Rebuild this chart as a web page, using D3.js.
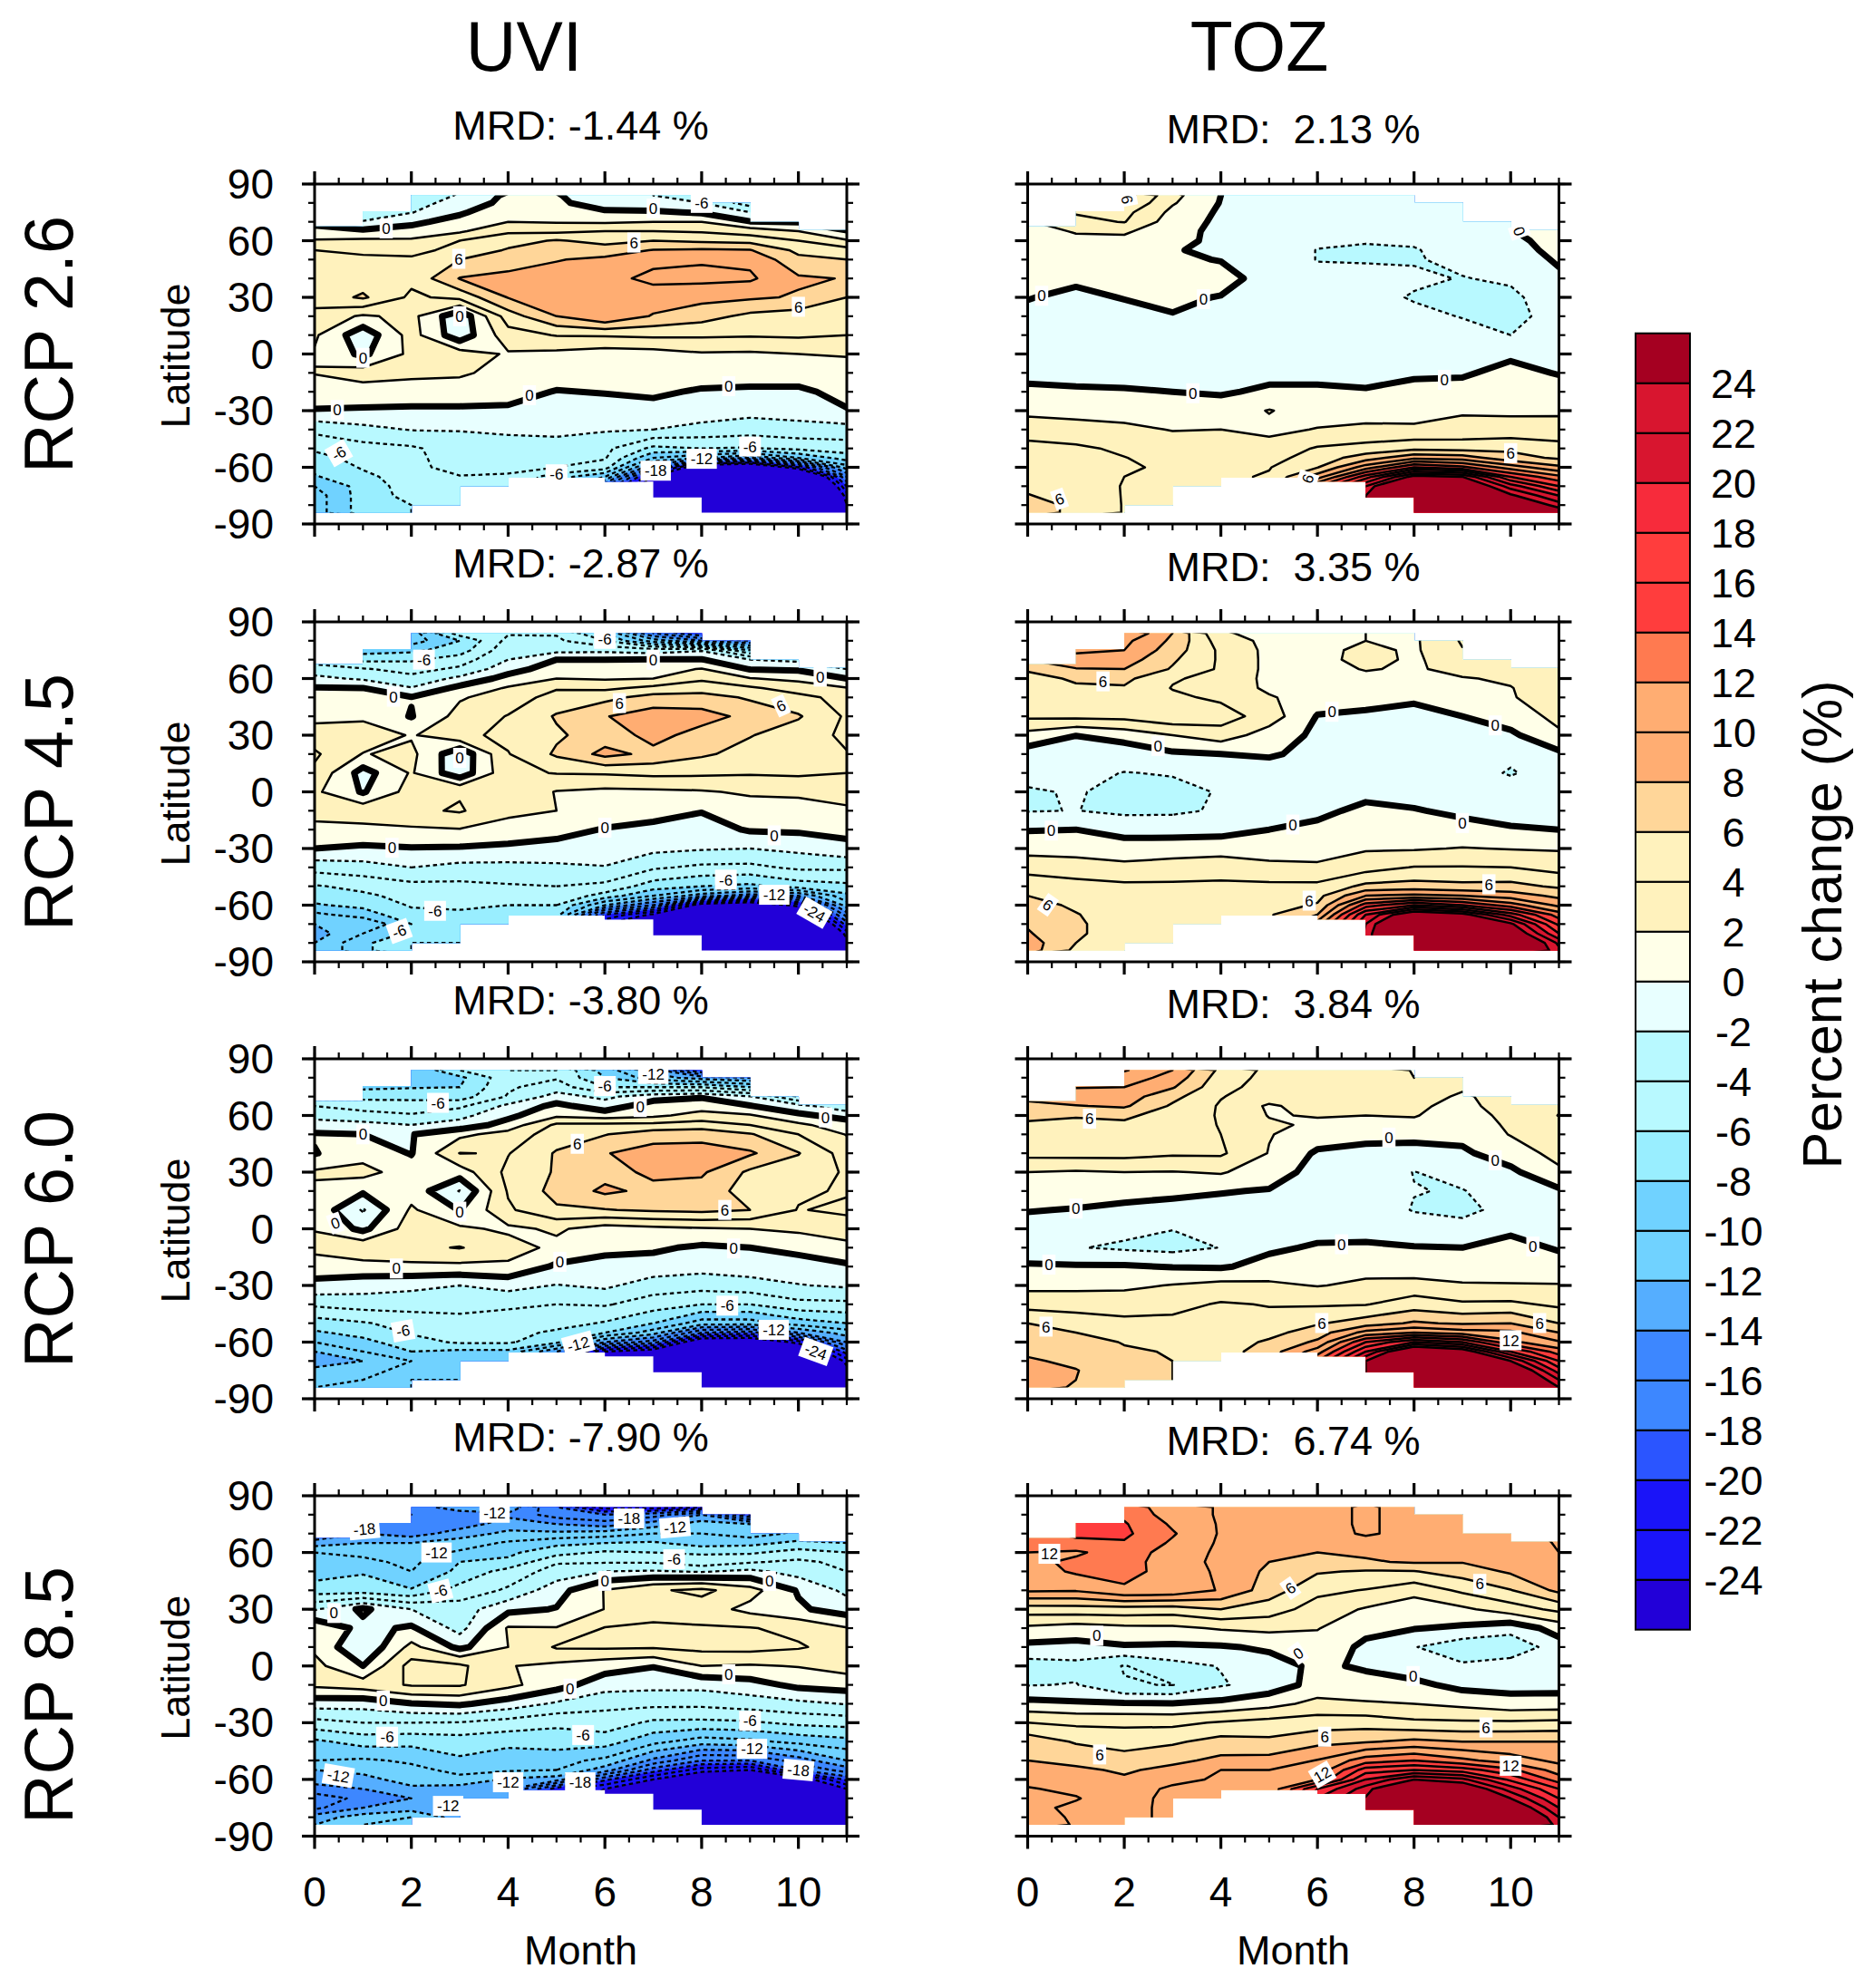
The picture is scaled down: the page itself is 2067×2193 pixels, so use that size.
<!DOCTYPE html>
<html><head><meta charset="utf-8">
<script src="https://cdn.jsdelivr.net/npm/d3@7"></script>
<style>html,body{margin:0;background:#fff}text{font-family:"Liberation Sans",Arial,sans-serif;fill:#000}</style>
</head><body><div id="chart"></div>
<script>
// Latitude nodes of every column below (north to south); one array per month 0..11
const lats=[84,80,75,70,65,60,55,50,40,30,20,10,0,-10,-20,-30,-40,-50,-55,-60,-65,-70,-75,-80,-84];
const levels=[-24,-22,-20,-18,-16,-14,-12,-10,-8,-6,-4,-2,0,2,4,6,8,10,12,14,16,18,20,22,24];
const bandColors=["#2200D8","#1A14F8","#1A14F8","#2B55FF","#3D87FF","#3D87FF","#55AEFF","#70D2FF","#70D2FF","#99EEFF","#B8F9FF","#B8F9FF","#E8FFFF","#FFFFE8","#FFF2BD","#FFF2BD","#FFD699","#FFAD72","#FFAD72","#FF7A50","#FF3D3D","#FF3D3D","#F72B3B","#D8152F","#D8152F","#A50021"];
// Valid-data limits for each month-to-month cell
const northLimit=[67.6,75.6,84,84,84,84,84,84,80,70,65.7];
const southLimit=[-84,-84,-80,-70,-65.5,-65.5,-67.6,-76,-84,-84,-84];
const rowNames=["RCP 2.6","RCP 4.5","RCP 6.0","RCP 8.5"];
const colNames=["UVI","TOZ"];
const mrdUVI=["MRD: -1.44 %","MRD: -2.87 %","MRD: -3.80 %","MRD: -7.90 %"];
const mrdTOZ=["MRD:  2.13 %","MRD:  3.35 %","MRD:  3.84 %","MRD:  6.74 %"];

const uvi26=[
[-1,-1,-1,-0.4,0.6,2.2,4,4.4,4.8,4.8,3.4,2.3,1.8,2.1,0.9,-0.1,-3.5,-5.5,-7,-7.5,-8.2,-10,-11,-11,-11],
[-3,-3,-3,-1.9,0.4,2.4,3.7,4.3,5,6.3,1.7,-1.3,-0.4,3,1,-0.2,-2.6,-4.7,-5,-5.8,-6.5,-7.2,-7,-7,-7],
[-3.5,-3,-2.1,-0.3,0.5,2.4,3.4,4.3,4.5,3.6,2.6,2.8,2.5,2.5,1,-0.3,-1.9,-4.3,-4.4,-4.5,-5,-5,-5.4,-6,-6],
[-1.8,-1,-0.2,0.5,1.7,4,4.6,6,8.1,4.6,-1.5,-1.3,2.9,2.3,1,-0.3,-1.9,-3,-3.2,-3.3,-4.1,-4.2,-4.5,-5,-5],
[0.4,0.5,1,2,3.7,5.2,6.2,7,8.6,8.1,5,3.2,1.8,1.3,0.7,-0.3,-1.6,-3,-3.2,-3.4,-4.3,-4.5,-4.5,-5,-5],
[0.2,0.4,1,1.8,3.6,6.2,7,7.9,8.8,9,8,4.1,1.5,1,-0.1,-0.9,-1.5,-2.8,-3.2,-4,-7,-8,-8,-8,-8],
[-1.5,-1,0.3,1.7,4,5.3,7,8.4,9.5,9.3,9.9,4.2,1,0.8,0.1,-0.9,-1.8,-3.5,-3.8,-5,-10,-16,-20,-20,-20],
[-2,-1.5,0.3,2,4,6,8.1,9.6,10.4,9.2,7.8,4.4,1.2,0.8,0.3,-0.6,-2,-6.5,-10,-16,-24.5,-27,-28,-28,-28],
[-3,-2,-0.2,2,3.8,5.6,8.3,9.8,10.5,8.6,6.8,4.3,1.8,0.9,-0.2,-1,-2.6,-6,-12,-28,-38,-44,-48,-50,-50],
[-5,-5,-2,0.1,3,5.3,8.1,9.6,10.3,8.3,5.5,4.2,1.7,0.8,-0.3,-1.4,-3,-6.2,-14,-30,-40,-45,-48,-48,-48],
[-5,-5,-3,-0.1,2,4,5.5,6.5,8.3,7.8,5,4.3,2,0.8,-0.3,-1.2,-2.7,-5.5,-10,-22,-35,-40,-40,-40,-40],
[-3,-3,-2,-1,0.1,2.2,4.8,6,7.9,6,4.6,4,2.2,0.9,0.5,-0.1,-2.8,-5,-7,-11,-16,-20,-23,-24,-25]];
const uvi45=[
[-6,-6,-6,-5,-3,-1.5,0.1,0.7,1.4,3,4.3,3.6,2.4,3,1.2,0,-3.2,-6.2,-7.2,-8.2,-10.5,-12,-13,-12,-12],
[-9,-9,-9,-6.5,-3.8,-2.3,0,0.8,1.5,3.4,1.9,-0.8,-0.2,3.3,1.4,-0.3,-2.8,-5.4,-6.4,-7.5,-9,-12,-10,-8.5,-8.5],
[-11,-11,-8.5,-6.3,-4.7,-3.4,-1.9,0.1,-0.1,1.8,2.5,2.2,2.8,3.6,1.7,-0.1,-2,-4.6,-5.3,-5.8,-6.6,-8,-7.5,-6,-6],
[-5,-8,-7,-5,-3.6,-1.5,0.5,1.8,2.7,3.5,-1.5,-1.3,3.8,4.2,1.9,-0.2,-2.6,-4.5,-5,-5.7,-6.3,-6.7,-6.2,-6,-6],
[-4.2,-3.4,-2.6,-2,-0.8,0.7,2.2,2.9,4.1,4.5,3.9,3.5,3.4,2.5,1.2,-0.4,-2.6,-4.2,-4.4,-6,-7,-7,-7,-7,-7],
[-4.2,-3.6,-2.6,0,1,2,3.8,4.8,6.2,5.7,6.3,4.1,1.9,2,0.6,-0.6,-2.4,-4,-4.5,-6,-7,-7,-7,-7,-7],
[-8,-6,-2.5,0,1.1,1.8,3.6,5.4,7.9,7,8.6,4.2,1.5,1,-0.1,-0.9,-2.1,-4.5,-6.8,-12,-20,-24,-25,-25,-25],
[-16,-11,-3,0.1,1.3,2,4.5,6.8,9,8.6,7.5,4.5,1.6,0.7,-0.5,-1.5,-3.7,-7,-10,-16,-24.5,-27,-28,-28,-28],
[-20,-14,-2.2,0.1,2.1,3.7,5,6.9,8.7,7.3,6.3,4.4,1.8,0.1,-0.9,-1.8,-4.4,-8,-13,-26,-36,-42,-45,-45,-45],
[-20,-16,-8,-2,-0.1,2.1,4.3,5.7,7.5,6.1,5.3,4.2,2.3,1,0.2,-2,-4.5,-8.5,-15,-28,-38,-42,-45,-45,-45],
[-6,-6,-6,-2.5,-0.3,1.5,3.1,4.6,6.2,5,4.5,4.3,2.5,0.9,0.3,-1.5,-3.6,-7,-14,-23,-30,-36,-38,-38,-38],
[-3,-3,-3,-3,-2,0,2.1,3.3,3.7,3.6,4.1,4,3,1.6,0.6,-0.6,-3.6,-6.5,-8.5,-11,-15,-19,-23,-25,-26]];
const uvi60=[
[-8,-8,-8,-7,-4,-2.6,-1.2,0.2,-0.1,2.3,1.6,1.5,1.9,2.6,0.9,-0.5,-3.6,-7,-8.3,-10,-12,-14,-11,-11,-10],
[-9,-9,-8.5,-6.5,-5,-3,-1.5,0,1.2,2.7,0.3,-2.2,-0.5,3.6,1.2,-1.1,-3.1,-6.2,-7.3,-8.6,-10,-12,-11,-10,-9],
[-10,-10,-8.2,-6.3,-5.5,-3.7,-2,-0.1,-0.1,0.9,1.2,2.3,3,3.6,1.5,-1.5,-3.2,-5.2,-5.8,-6.8,-8,-10,-9,-8,-8],
[-6,-8.5,-8,-7,-4.4,-2.6,-1.2,1.5,4.05,1,-2.1,-0.1,2.4,4.1,1.5,-2,-3.4,-4.6,-5,-5.7,-8.5,-8.7,-8.5,-8,-8],
[-4,-4.6,-4.3,-3.8,-1.5,-0.5,0.8,2.8,3.9,4.5,4.2,3.7,1.6,2.9,1.6,-1.3,-3.6,-5.1,-5.3,-5.7,-8.5,-8.5,-8.5,-8,-8],
[-4,-4.2,-3,-1.2,0.5,1.6,4.4,5,6.2,6.2,6.7,5.7,2.3,1.5,-0.3,-2.1,-4,-5.2,-6.4,-7.5,-14,-14,-14,-14,-14],
[-9,-8,-6,-2.5,-1,1,4.5,5.9,7.9,7.3,8.4,5.9,1.1,0.5,-0.7,-1.6,-3.8,-6.2,-8,-14,-24,-25,-25,-25,-25],
[-13,-11,-6,-0.8,1,1.6,4.5,7.2,8.8,8.4,7.5,6.3,1.5,0.3,-0.8,-3,-5,-8,-11,-17,-26,-28,-28,-28,-28],
[-20,-13,-6,-0.2,1.2,2.7,5,7.3,8.9,8.3,7.2,6.5,1.8,-0.3,-1.3,-3.2,-6,-11,-18,-28,-37,-42,-45,-45,-45],
[-20,-14,-8,-1.8,0.1,2.2,4,6.2,8.3,5.6,5.1,6,2,0,-1,-2.8,-6,-11,-19,-28,-37,-42,-45,-45,-45],
[-8,-8,-8,-6,-1.3,0.4,2.4,4,6.1,5,4.3,3.9,2.4,0.5,-0.8,-2.1,-4.6,-9,-14,-23,-30,-36,-38,-38,-38],
[-5,-5,-5,-5,-3.5,-0.7,0.9,1.9,3.1,3.8,3.8,4.4,3,1.4,-0.3,-1.7,-4.5,-8,-11,-14,-19,-23,-25,-27,-28]];
const uvi85=[
[-18,-18,-18,-16,-13,-10,-9.5,-9,-7,-2.2,1.6,1.6,2.6,2.4,-1.1,-4.7,-8.4,-10,-12,-13,-15,-17,-16.5,-13,-12],
[-17,-17,-16,-14,-12,-10.5,-9.5,-8.2,-7,0.4,-0.6,-1.8,0,3,-1.2,-4,-7.2,-10.3,-11.5,-12.6,-14,-15.5,-14,-11,-10],
[-15,-16,-16,-15,-12,-11,-10.5,-10,-7.8,-2,0.3,2.6,4.8,4.2,-0.1,-4,-7.4,-9.7,-10.5,-11.2,-12.4,-14,-13,-10,-9],
[-13,-15,-15,-13,-11,-9.7,-8,-7.5,-5.2,-3,-2.7,-0.5,4.4,4.2,0.3,-4.1,-7,-8.3,-9.5,-10.5,-13,-13,-13,-13,-13],
[-12.5,-14.5,-13,-11.5,-9.7,-8.4,-7.6,-5.2,-3.7,-0.5,2.2,2,2.1,2.5,-0.9,-4.8,-7.4,-9.2,-9.7,-12.3,-13.5,-13.5,-13.5,-13.5,-13.5],
[-18,-17,-14,-11.5,-8.5,-6.8,-4.2,-3.2,-0.8,0.1,2.1,4.2,1.5,0.8,-2.3,-5.6,-7,-9.3,-10,-13,-21,-21,-21,-21,-21],
[-23,-18,-15,-11,-8,-5.7,-4.2,-2,2.1,2.05,4.1,4.3,0.8,-1.1,-3.5,-4.9,-7.1,-10.5,-13,-19.5,-24,-26,-26,-26,-26],
[-23,-17,-13,-10,-7.7,-6,-4.2,-1.8,3.7,3.1,4.4,4.2,0.1,-1.4,-3.5,-6.4,-9.4,-14.5,-19,-24,-29,-30,-30,-30,-30],
[-22,-14,-11,-10,-9,-6.2,-5.3,-2.2,4.5,3,4.2,4.6,2,-1.4,-3.5,-6.5,-11,-18,-23,-28,-34,-36,-36,-36,-36],
[-22,-20,-12,-11,-8.6,-6.3,-4.2,-1.5,2.8,1.4,4.1,4.7,1.8,-0.8,-3,-6.3,-10.5,-18,-24,-29,-35,-37,-37,-37,-37],
[-12,-12,-11,-9.5,-7.5,-5.2,-3.6,-2.8,-0.2,0.3,3.5,4.2,2.1,0.5,-2.5,-5.5,-9.4,-15,-18,-26,-33,-35,-35,-35,-35],
[-10,-10,-10,-10,-8,-6,-4.5,-4,-2.5,-0.9,2.1,3.2,2.8,0.9,-1.9,-5.2,-8.7,-12,-15,-19.5,-24,-26,-26,-26,-26]];
const toz26=[
[2,2,2,1.8,1.5,1,0.8,0.7,0.5,0.1,-0.6,-0.7,-0.8,-0.4,0.3,1.4,3.3,4.5,4.8,5,5.2,5.6,6.1,7,7],
[5,5,4.2,3.4,2.1,1.7,1.4,1,0.4,-0.5,-0.6,-0.7,-0.8,-0.5,0.2,1.2,2.9,4.3,4.6,4.8,4.8,5,5.2,5.5,5.5],
[7,6,4.6,4.1,2.3,1.5,1.1,0.8,0.4,0.1,-0.8,-0.8,-0.8,-0.4,0.1,1.1,2.5,3.7,4.05,4.3,4,3.9,3.9,3.9,3.9],
[2.6,2.2,1.5,1,0.7,0.6,0.1,0.4,0.6,0.4,-0.1,-0.8,-0.8,-0.4,0,0.9,1.9,3.2,3.4,3.6,3.6,3.8,3.8,3.8,3.8],
[0,-0.1,-0.3,-0.4,-0.5,-0.5,-0.3,-0.1,0.9,-0.1,-0.7,-0.8,-0.8,-0.4,-0.2,0.9,2,3.2,3.4,3.5,3.6,3.6,3.6,3.6,3.6],
[-0.6,-0.6,-0.7,-0.8,-0.9,-1,-1,-1,-1,-1,-1,-1,-1,-0.5,0.3,2.1,1.5,2.8,3.3,3.9,4.2,4.2,4.2,4.2,4.2],
[-0.6,-0.7,-0.9,-1,-1.3,-1.7,-2.05,-2.05,-1.6,-1.2,-1.2,-1.2,-1,-0.5,0.3,1.1,2.1,4.2,4.9,5.9,9,14,20,20,20],
[-0.6,-0.8,-1.2,-1.5,-1.7,-1.95,-2.1,-2.05,-1.8,-1.6,-1.4,-1.3,-1,-0.4,0.1,1.2,2.4,4.7,7,11,17,22,24,24,24],
[-0.6,-0.9,-1.2,-1.4,-1.7,-1.9,-2.05,-2.1,-1.8,-2.1,-1.7,-1.3,-1,-0.3,0.6,1.3,2.3,5.5,9.5,16,25,33,38,38,38],
[-0.4,-0.6,-0.9,-1.2,-1.4,-1.5,-1.7,-1.7,-2.05,-2.3,-2.05,-1.6,-1,-0.2,0.6,1.8,2.6,5.3,9,14.5,24,28,32,36,36],
[-0.3,-0.3,-0.3,-0.3,-0.1,-0.4,-0.7,-0.9,-1.8,-2.3,-2.3,-2,-0.3,0.5,1,1.7,2.7,5.6,6.7,11,16,21,24.5,28,30],
[0.8,0.8,0.8,0.8,0.8,0.6,0.5,0.2,-0.3,-1.2,-1.6,-1.6,-0.6,-0.1,0.8,1.6,3,4.6,5.7,8.5,12.5,16,20,23,26]];
const toz45=[
[9,9,9,8,6.2,5.5,5.2,5,4.4,1.3,-0.9,-1.4,-2.2,-2.1,-0.1,1.3,3.2,5.3,6,6.7,7.2,7.8,8.2,9,9],
[11,11,10.5,9,7.9,6.2,5.8,5.2,4.5,0.05,-1.5,-1.6,-1.85,-1.96,0,1.2,2.9,4.7,5.3,5.7,6.1,6.3,6.3,6,5.5],
[12,10.5,10,9,8,6.5,5.8,5.3,4.6,0.8,-1.2,-2.05,-2.5,-2.4,-0.7,0.9,2.5,4.4,4.7,4.9,5,5,5,5,5],
[8,7.6,7,6.3,5.8,4.2,3.9,4.4,5.5,2,-0.3,-1.9,-2.4,-2.3,-0.9,1.2,2.7,4.4,4.6,4.7,4.7,4.7,4.7,4.7,4.7],
[2.2,3,3.6,3.7,3.7,3.4,3.3,3.6,5,3,0,-1.3,-1.9,-1.8,-0.7,1.2,3.1,4.4,4.6,4.7,4.8,4.8,4.8,4.8,4.8],
[1.5,1.5,1.5,1.5,1.5,1.5,1.6,2.2,3,1.1,0.2,-0.9,-1.3,-1,0,0.9,2.6,4.4,4.8,5.2,5.8,5.8,5.8,5.8,5.8],
[1.3,1.3,1.4,1.4,1.4,1.4,1.3,1,-0.1,-0.4,-0.5,-0.7,-0.9,-0.5,0.5,1.5,2.2,4.5,5.4,6.2,8,11,12,12,12],
[2,2,2.5,2.6,2.1,1.6,1,0.6,-0.3,-0.6,-0.7,-0.8,-0.6,0.5,1,1.8,3.2,6.5,10,15,20,22,22.5,22.5,22.5],
[1.5,1.7,1.7,1.7,1.8,1.5,1,0.3,-0.6,-0.7,-0.8,-0.9,-0.6,0.1,0.8,1.8,4.1,6.8,10.5,18,27,32,34,36,36],
[4,4.2,3.9,3.1,2.5,1.9,1.2,0.8,0,-1,-1.2,-1,-0.7,-0.3,0.5,2.1,4.1,6.5,10,16,25,29,32,34,34],
[3.5,3.5,3.4,3.2,2.7,2.2,1.95,1.9,1,-0.4,-1.5,-2.2,-0.9,-0.4,0.1,1.9,4,6.6,9,13,19,24.5,27,30,30],
[3.3,3.3,3.3,3.3,3.1,2.9,2.8,2.7,2.5,1.7,-0.4,-0.9,-0.9,-0.5,0,1.8,3.3,5.7,7.5,9.5,13,15.5,18,21.5,22.5]];
const toz60=[
[9,9,9,9,7,6.3,5.8,5.2,4.6,2,1.2,0.1,-0.8,-1,0.2,1.5,3.2,6,6.7,7.1,7.6,8.3,9.5,10,10],
[11,11,10.1,9,7.9,6.1,5.7,5.2,4.7,1.8,1,-0.1,-1.1,-1.9,0.2,1.5,3.2,5,6,6.7,7,7.5,8.1,8,7.5],
[12.2,11,10,9,8.3,6.3,5.7,5.3,4.7,2,0.8,-0.5,-1.5,-2.3,0.2,1.6,3.1,4.5,5.3,5.9,6.2,6.4,6.5,6.5,6.5],
[10,9.3,8.2,6.6,5.7,5.3,5,4.7,4.3,1.9,0.4,-0.6,-1.95,-2.6,-0.1,2.1,3.4,4.5,5,5.5,5.9,6,6,6,6],
[5.5,5,4.6,4.1,3.8,3.8,3.9,4,4.3,2.2,0.1,-0.6,-1.2,-1.95,-0.2,2.6,4.2,4.6,4.8,5,5.1,5.1,5.1,5.1,5.1],
[3.5,3.4,3.2,3,1.7,1.9,2.3,2.1,1.9,0.8,-0.1,-0.5,-0.7,-0.3,0.6,2.4,3.9,4.6,5.4,6.3,7,7,7,7,7],
[3,3,3,3,2.9,2.1,1.7,1.1,-0.3,-0.6,-0.7,-0.8,-0.6,0.2,1.4,1.9,3.8,5.8,7,8.4,11,14,16,16,16],
[3,3,3,2.9,2.6,2,1.3,0.6,-0.6,-0.9,-1,-1,-0.7,0.3,1.3,2.4,3.9,7,10.7,16,20,24,24,24,24],
[1.9,2,2.4,2.6,2.3,2.1,1.6,0.7,-0.9,-2.05,-1.95,-2.1,-1.2,0.1,0.7,2.8,5,8.3,12,20,28.5,33,36,36,36],
[3,3,2.2,1.8,1.5,1.2,0.9,0.5,-0.3,-1.2,-2.1,-2.3,-1.6,0,0.9,2.2,4.3,7.7,11,18,26,30,33,35,35],
[3,3,3,2.6,2.8,2.5,2.3,2.1,0.9,-0.4,-0.9,-1.6,-0.4,0.7,1.3,2.1,4.4,8,10.5,12.5,18,24,28,30,30],
[3.8,3.8,3.8,3.8,3.8,4.05,3.4,3.2,2.7,1.6,-0.3,-0.9,-0.5,-0.2,0.9,2.1,3.6,6,8,10.2,13,16,19,22,24]];
const toz85=[
[14,14,14,13,12.7,12,11.5,11,10.3,5,1.6,-0.5,-2.9,-2.1,0.6,4,7.2,8,9,9.6,10.1,10,10.4,11,12],
[15,15,14.4,14.6,13.3,11.7,12.4,12.3,10.2,5.1,1.1,-0.6,-2.6,-1.9,0.3,3.6,5.8,7.4,8.4,9.1,9.7,10.1,9.7,9.7,9.7],
[13,13.6,14.2,14.4,13.8,13,12.8,12.6,11.7,5.2,1.5,-0.2,-4.1,-3.9,0.2,3.5,5.4,6.6,7.7,8.3,8.9,9.1,9.2,9.2,9.2],
[11,11,11.7,12.2,11.7,11.2,11,11.3,11.5,5,1.6,-0.3,-2.7,-4.05,0.1,3.5,5.7,7.5,8.6,9.4,10.4,10.6,10.6,10.6,10.6],
[9.8,9.8,9.8,9.8,9.7,9.6,9.5,9.6,9.8,6,2.2,-0.2,-1.9,-2.2,0.5,4.2,6.7,8.5,10,10.3,10.5,10.5,10.5,10.5,10.5],
[9.6,9.6,9.6,9.6,9.4,8.6,8,7.6,7,5,2.5,0.3,-0.8,-1.1,1.3,4.7,6.4,8.7,10,10.2,10.5,10.5,10.5,10.5,10.5],
[9.5,9.5,9.5,9.3,9,8,7.5,6.2,4.5,3.1,2.1,1.2,0.4,0.7,2.6,5,7.4,10.1,10.5,12,18,20,20,20,20],
[10.2,10.2,10.2,10.2,9.4,8.3,7.8,5.8,3.9,1.8,0.5,-0.4,-0.3,0.8,2.2,5.1,7.8,13,17,20,23,24.2,25,25,25],
[9.5,9.5,9.5,9.5,9.3,8.6,8.2,5.9,2.7,0.8,0.1,-1.9,-1.2,0.5,2,4.4,8.5,14,18,24,30,33,35,35,35],
[9.6,9.6,9.6,9.4,9.2,8.7,8.1,6.9,4.4,1.6,-0.3,-3.3,-1.7,-0.6,1.5,4.3,8,12.5,17,22.5,27,30,33,33,33],
[9.8,9.8,9.8,9.6,9.4,9,8.7,8.3,5.9,3,-1.2,-3.5,-0.9,-0.7,0.8,4.3,8,11,14.5,17.5,21,24,27,30,31],
[10.2,10.2,10.2,10.2,10.1,10,9.4,9,8.5,4.5,0.8,-0.9,-1.1,-0.7,0.9,4.5,8,9.5,11,13,16,18,20,22,23]];

// Contour labels: [value, month, latitude, rotation]
const lblU26=[[0,1.48,66.5,0],[0,7,77,0],[-6,8,80,0],[6,2.98,50.4,0],[6,6.6,59,0],[6,10,25,0],[0,3,20,0],[0,1,-2,0],[0,0.47,-29.6,0],[0,4.44,-21.8,0],[0,8.56,-17,0],[-6,0.5,-52.5,-30],[-6,5,-63.7,0],[-6,9,-49,0],[-12,8,-55.5,0],[-18,7.05,-61.8,0]];
const lblU45=[[-6,2.26,70,0],[-6,6,81,0],[0,7,70,0],[0,10.45,61,0],[0,1.63,50.4,0],[0,3,18,0],[6,6.3,47,0],[6,9.64,45.6,-25],[0,6,-19,0],[0,9.5,-23,0],[0,1.6,-29.6,0],[-6,8.5,-46.5,0],[-12,9.5,-54.5,0],[-24,10.33,-64,30],[-6,2.49,-63,0],[-6,1.75,-73.7,-20]];
const lblU60=[[-6,2.55,66.7,0],[-6,6,75.6,0],[-12,7,82,0],[0,1,50,0],[0,6.73,64.5,0],[0,10.56,59,0],[6,5.43,45,0],[0,3,9.1,0],[0,0.43,3,-20],[6,8.48,10,0],[0,1.69,-21,0],[0,5.07,-17.5,0],[0,8.66,-10.4,0],[-6,1.83,-54,-10],[-6,8.53,-40.7,0],[-12,5.45,-61,-15],[-12,9.49,-53.5,0],[-24,10.36,-65,20]];
const lblU85=[[-18,1.03,72.4,-5],[-12,3.72,81,0],[-18,6.5,78,0],[-12,7.45,73.3,-5],[-12,2.52,60,0],[-6,7.43,56.4,0],[-6,2.6,39.7,-15],[0,0.4,28,0],[0,6,45,0],[0,9.4,45,0],[0,8.56,-4.4,0],[0,5.28,-12,0],[0,1.42,-18.3,0],[-6,1.5,-37.4,0],[-6,5.55,-36.5,0],[-6,9,-29,0],[-12,9.04,-43.8,0],[-18,10,-55,5],[-12,0.49,-58,10],[-12,4,-61.5,0],[-18,5.49,-61.5,0],[-12,2.76,-74,0]];
const lblT26=[[6,2.06,81.8,80],[0,10.18,65,70],[0,0.29,30.8,0],[0,3.64,29,0],[0,3.42,-20.8,0],[0,8.63,-13.7,0],[6,10,-52.5,0],[6,5.8,-66,-70],[6,0.66,-76.8,-20]];
const lblT45=[[6,1.56,58.5,0],[0,6.3,42.4,0],[0,9.68,35.2,0],[0,2.7,24.3,0],[0,0.49,-20.5,0],[0,5.49,-17.3,0],[0,9,-16.5,0],[6,0.42,-59.8,35],[6,5.83,-57.6,0],[6,9.55,-48.9,0]];
const lblT60=[[6,1.28,58.3,0],[0,7.48,48.3,0],[0,9.68,36.3,0],[0,1,10.7,0],[0,0.44,-19,0],[0,6.5,-8.2,0],[0,10.46,-9.4,0],[6,0.38,-51.8,0],[6,6.09,-49.9,0],[6,10.6,-49.9,0],[12,10,-59,0]];
const lblT85=[[12,0.45,59.3,0],[6,5.44,41.2,-35],[6,9.36,43.4,0],[0,1.43,16,0],[0,5.6,6.7,-35],[0,7.98,-5.3,0],[6,9.49,-32.5,0],[6,6.15,-37.4,0],[6,1.49,-46.8,0],[12,6.1,-57.4,-30],[12,10,-52.8,0]];

const W=2067,H=2193;
const svg=d3.select("#chart").append("svg").attr("width",W).attr("height",H).attr("viewBox",`0 0 ${W} ${H}`).style("display","block");
const colX=[[347,934],[1133.5,1719.5]];
const rowY=[[203,578],[686,1061],[1168,1543],[1650,2025.5]];
const rowLabelY=[380,885,1367,1870];
const panels=[
 {c:0,r:0,d:uvi26,l:lblU26},{c:0,r:1,d:uvi45,l:lblU45},{c:0,r:2,d:uvi60,l:lblU60},{c:0,r:3,d:uvi85,l:lblU85},
 {c:1,r:0,d:toz26,l:lblT26},{c:1,r:1,d:toz45,l:lblT45},{c:1,r:2,d:toz60,l:lblT60},{c:1,r:3,d:toz85,l:lblT85}];
const nx=12,ny=lats.length;
const idx=d3.scaleLinear().domain(d3.range(ny)).range(lats);
const contours=d3.contours().size([nx,ny]).thresholds(levels);

function styleAxis(g,w){g.select(".domain").remove();g.selectAll("line").attr("stroke","#000").attr("stroke-width",w);g.selectAll("text").remove();}

panels.forEach((p,pi)=>{
  const [x0,x1]=colX[p.c],[y0,y1]=rowY[p.r];
  const x=d3.scaleLinear().domain([0,11]).range([x0,x1]);
  const y=d3.scaleLinear().domain([90,-90]).range([y0,y1]);
  const vals=new Array(nx*ny);
  p.d.forEach((col,i)=>col.forEach((v,j)=>{vals[j*nx+i]=v;}));
  const path=d3.geoPath(d3.geoTransform({point(px,py){this.stream.point(x(px-0.5),y(idx(py-0.5)));}}));
  const g=svg.append("g");
  const clip=svg.append("clipPath").attr("id","clip"+pi);
  clip.selectAll("rect").data(northLimit).join("rect")
    .attr("x",(d,i)=>x(i)).attr("width",(d,i)=>x(i+1)-x(i)+0.4)
    .attr("y",d=>y(d)).attr("height",(d,i)=>y(southLimit[i])-y(d));
  const body=g.append("g").attr("clip-path",`url(#clip${pi})`);
  body.append("rect").attr("x",x0).attr("y",y0).attr("width",x1-x0).attr("height",y1-y0).attr("fill",bandColors[0]);
  const cs=contours(vals);
  body.selectAll("path.f").data(cs).join("path").attr("class","f")
    .attr("d",path).attr("fill",(d,i)=>bandColors[i+1]).attr("stroke","none");
  body.selectAll("path.l").data(cs).join("path").attr("class","l")
    .attr("d",path).attr("fill","none").attr("stroke","#000")
    .attr("stroke-linejoin","round")
    .attr("stroke-width",d=>d.value===0?7:(d.value<0?2.3:2.5))
    .attr("stroke-dasharray",d=>d.value<0?"4.5 3.5":null);
  // contour labels
  const lg=g.selectAll("g.cl").data(p.l).join("g").attr("class","cl")
    .attr("transform",d=>`translate(${x(d[1])},${y(d[2])}) rotate(${d[3]})`);
  lg.append("rect").attr("x",d=>-(String(d[0]).length*9.5+5)/2).attr("y",-11)
    .attr("width",d=>String(d[0]).length*9.5+5).attr("height",22).attr("fill","#fff");
  lg.append("text").attr("text-anchor","middle").attr("dy","0.36em").attr("font-size",17).text(d=>String(d[0]));
  // frame & ticks
  g.append("rect").attr("x",x0).attr("y",y0).attr("width",x1-x0).attr("height",y1-y0).attr("fill","none").attr("stroke","#000").attr("stroke-width",3);
  const xMaj=d3.range(0,11,2),xMin=d3.range(0,11.01,0.5),yMaj=d3.range(-90,91,30),yMin=d3.range(-90,91,10);
  [[d3.axisTop,y0],[d3.axisBottom,y1]].forEach(([a,t])=>{
    g.append("g").attr("transform",`translate(0,${t})`).call(a(x).tickValues(xMin).tickSize(7).offset(0)).call(s=>styleAxis(s,2.2));
    g.append("g").attr("transform",`translate(0,${t})`).call(a(x).tickValues(xMaj).tickSize(14).offset(0)).call(s=>styleAxis(s,3.2));
  });
  [[d3.axisLeft,x0],[d3.axisRight,x1]].forEach(([a,t])=>{
    g.append("g").attr("transform",`translate(${t},0)`).call(a(y).tickValues(yMin).tickSize(7).offset(0)).call(s=>styleAxis(s,2.2));
    g.append("g").attr("transform",`translate(${t},0)`).call(a(y).tickValues(yMaj).tickSize(14).offset(0)).call(s=>styleAxis(s,3.2));
  });
  if(p.c===0){
    g.selectAll("text.yl").data(yMaj).join("text").attr("class","yl").attr("x",302).attr("y",d=>y(d)).attr("dy","0.35em")
      .attr("text-anchor","end").attr("font-size",46).text(d=>String(d));
    g.append("text").attr("transform",`translate(209,${(y0+y1)/2+2}) rotate(-90)`).attr("text-anchor","middle").attr("font-size",45).text("Latitude");
    svg.append("text").attr("transform",`translate(80,${rowLabelY[p.r]}) rotate(-90)`).attr("text-anchor","middle").attr("font-size",75.5).text(rowNames[p.r]);
  }
  if(p.r===3){
    g.selectAll("text.xl").data(xMaj).join("text").attr("class","xl").attr("x",d=>x(d)).attr("y",2103)
      .attr("text-anchor","middle").attr("font-size",46).text(d=>String(d));
    g.append("text").attr("x",(x0+x1)/2).attr("y",2167).attr("text-anchor","middle").attr("font-size",45).text("Month");
  }
  g.append("text").attr("x",(x0+x1)/2).attr("y",y0-(p.c===0?49:45)).attr("text-anchor","middle").attr("font-size",45)
    .style("white-space","pre").text((p.c===0?mrdUVI:mrdTOZ)[p.r]);
});
colNames.forEach((t,i)=>svg.append("text").attr("x",[578,1389][i]).attr("y",77.5).attr("text-anchor","middle").attr("font-size",77).text(t));

// colour bar
const barY=d3.scaleBand().domain(d3.range(bandColors.length).reverse()).range([367.7,1797.7]);
const bar=svg.append("g");
bar.selectAll("rect").data(d3.range(bandColors.length)).join("rect")
  .attr("x",1804).attr("width",60).attr("y",d=>barY(d)).attr("height",barY.bandwidth())
  .attr("fill",d=>bandColors[d]).attr("stroke","#000").attr("stroke-width",2);
bar.selectAll("text").data(levels).join("text").attr("x",1912).attr("y",(d,i)=>barY(i)).attr("dy","0.36em")
  .attr("text-anchor","middle").attr("font-size",45).text(d=>String(d));
svg.append("text").attr("transform","translate(2030.5,1020) rotate(-90)").attr("text-anchor","middle").attr("font-size",61).text("Percent change (%)");
</script></body></html>
